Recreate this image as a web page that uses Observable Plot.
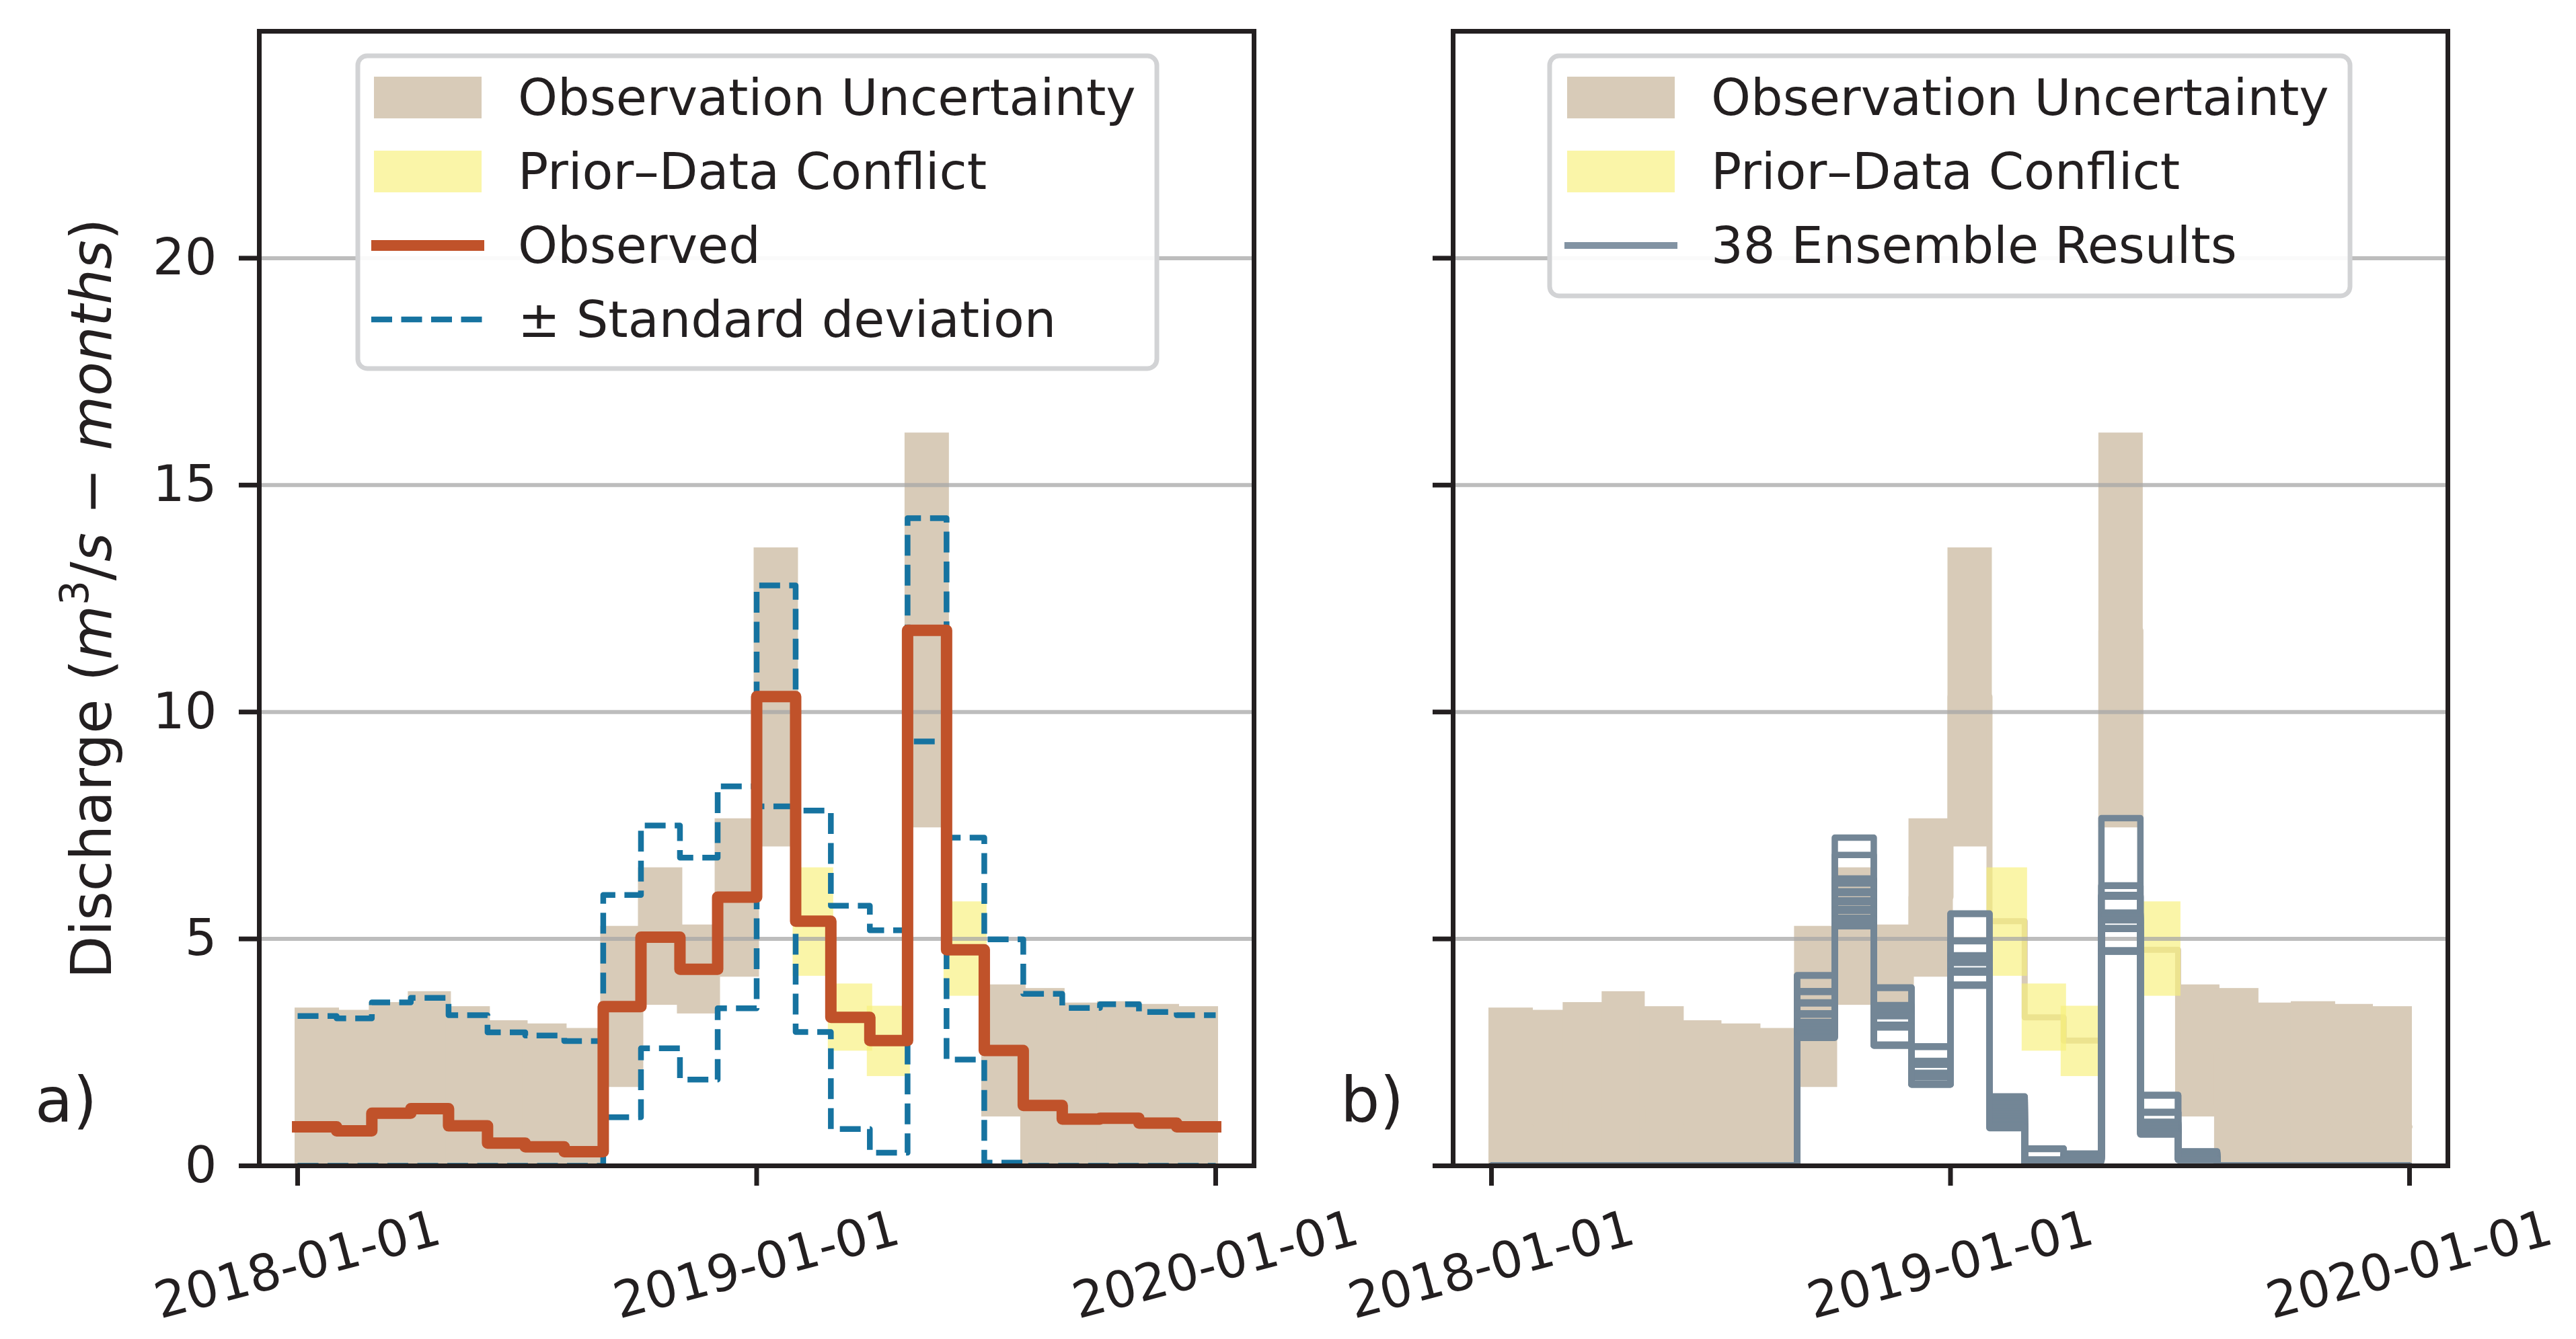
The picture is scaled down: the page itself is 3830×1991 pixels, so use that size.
<!DOCTYPE html>
<html>
<head>
<meta charset="utf-8">
<script src="https://cdn.jsdelivr.net/npm/d3@7"></script>
<script src="https://cdn.jsdelivr.net/npm/@observablehq/plot@0.6"></script>
<style>
html, body { margin: 0; padding: 0; background: #ffffff; }
#fig { position: relative; width: 3830px; height: 1991px; overflow: hidden; font-family: "DejaVu Sans", sans-serif; background: #ffffff; }
#fig svg { position: absolute; top: 0; overflow: visible; }
</style>
</head>
<body>
<div id="fig"></div>
<script>
// ---------------- data ----------------
const months = ["2018-01","2018-02","2018-03","2018-04","2018-05","2018-06","2018-07","2018-08","2018-09","2018-10","2018-11","2018-12",
                "2019-01","2019-02","2019-03","2019-04","2019-05","2019-06","2019-07","2019-08","2019-09","2019-10","2019-11","2019-12"];
const observed = [0.86, 0.77, 1.16, 1.26, 0.88, 0.50, 0.42, 0.31, 3.51, 5.04, 4.33, 5.92,
                  10.34, 5.39, 3.27, 2.76, 11.80, 4.76, 2.54, 1.33, 1.03, 1.05, 0.94, 0.86];
const obsUpper = [3.48, 3.43, 3.60, 3.84, 3.51, 3.20, 3.13, 3.03, 5.28, 6.57, 5.31, 7.65,
                  13.62, 6.57, 4.01, 3.52, 16.15, 5.82, 3.99, 3.91, 3.59, 3.62, 3.56, 3.51];
const obsLower = [0, 0, 0, 0, 0, 0, 0, 0, 1.73, 3.54, 3.35, 4.16,
                  7.03, 4.18, 2.53, 1.97, 7.45, 3.74, 1.08, 0, 0, 0, 0, 0];
const conflictMonths = ["2019-02", "2019-03", "2019-04", "2019-06"];
const stdUpper = [3.30, 3.25, 3.60, 3.70, 3.32, 2.94, 2.87, 2.75, 5.97, 7.50, 6.79, 8.36,
                  12.79, 7.83, 5.73, 5.19, 14.27, 7.23, 4.99, 3.79, 3.48, 3.56, 3.39, 3.32];
const stdLower = [0, 0, 0, 0, 0, 0, 0, 0, 1.07, 2.59, 1.90, 3.47,
                  7.92, 2.95, 0.81, 0.29, 9.35, 2.34, 0.07, 0, 0, 0, 0, 0];

// 38 ensemble members, values per month (months not listed are 0)
const ens_2018_09 = [4.20, 4.19, 3.85, 3.83, 3.60, 3.58, 3.36, 3.35, 3.33, 3.17,
  3.16, 3.14, 3.13, 3.11, 3.10, 3.08, 3.07, 3.05, 3.04, 3.02,
  3.01, 3.00, 2.99, 2.97, 2.96, 2.95, 2.94, 2.93, 2.92, 2.91,
  2.90, 2.89, 2.88, 2.87, 2.86, 2.85, 2.83, 2.82];
const ens_2018_10 = [7.23, 6.85, 6.33, 6.31, 6.29, 6.27, 6.25, 6.24, 6.23, 6.22,
  6.05, 6.04, 6.03, 6.03, 6.02, 6.01, 5.85, 5.84, 5.83, 5.83,
  5.82, 5.81, 5.66, 5.65, 5.64, 5.64, 5.63, 5.62, 5.47, 5.46,
  5.45, 5.44, 5.43, 5.30, 5.29, 5.29, 5.28, 5.28];
const ens_2018_11 = [3.93, 3.92, 3.54, 3.53, 3.52, 3.50, 3.49, 3.48, 3.46, 3.45,
  3.44, 3.43, 3.42, 3.41, 3.40, 3.39, 3.38, 3.37, 3.36, 3.35,
  3.34, 3.33, 3.32, 3.31, 3.30, 3.30, 3.11, 3.10, 3.09, 3.08,
  3.07, 3.06, 3.05, 2.67, 2.66, 2.66, 2.65, 2.65];
const ens_2018_12 = [2.63, 2.63, 2.62, 2.31, 2.30, 2.30, 2.29, 2.28, 2.27, 2.27,
  2.26, 2.25, 2.25, 2.24, 2.23, 2.23, 2.05, 2.04, 2.04, 2.03,
  2.02, 2.01, 2.01, 2.00, 1.99, 1.99, 1.98, 1.97, 1.97, 1.96,
  1.81, 1.81, 1.80, 1.80, 1.80, 1.80, 1.79, 1.79];
const ens_2019_01 = [5.56, 5.55, 4.96, 4.96, 4.95, 4.64, 4.63, 4.62, 4.61, 4.60,
  4.59, 4.58, 4.57, 4.56, 4.55, 4.54, 4.53, 4.52, 4.51, 4.50,
  4.49, 4.48, 4.47, 4.30, 4.29, 4.29, 4.28, 4.27, 4.27, 4.26,
  4.26, 3.99, 3.99, 3.98, 3.98, 3.98, 3.97, 3.97];
const ens_2019_02 = [1.53, 1.52, 1.48, 1.46, 1.45, 1.41, 1.40, 1.37, 1.34, 1.33,
  1.30, 1.28, 1.25, 1.24, 1.21, 1.19, 1.17, 1.15, 1.12, 1.11,
  1.09, 1.07, 1.05, 1.04, 1.02, 1.00, 0.98, 0.97, 0.95, 0.94,
  0.92, 0.91, 0.89, 0.88, 0.87, 0.86, 0.84, 0.83];
const ens_2019_03 = [0.38, 0.38, 0.37, 0.14, 0.13, 0.13, 0.12, 0.12, 0.11, 0.11,
  0.10, 0.10, 0.10, 0.09, 0.09, 0.09, 0.08, 0.08, 0.08, 0.08,
  0.07, 0.07, 0.07, 0.07, 0.06, 0.06, 0.06, 0.06, 0.05, 0.05,
  0.05, 0.05, 0.04, 0.04, 0.04, 0.03, 0.03, 0.02];
const ens_2019_04 = [0.27, 0.26, 0.26, 0.25, 0.24, 0.24, 0.23, 0.23, 0.22, 0.21,
  0.21, 0.20, 0.20, 0.19, 0.19, 0.19, 0.18, 0.18, 0.17, 0.17,
  0.17, 0.16, 0.16, 0.16, 0.15, 0.15, 0.15, 0.14, 0.14, 0.14,
  0.13, 0.13, 0.13, 0.12, 0.12, 0.11, 0.11, 0.10];
const ens_2019_05 = [7.66, 6.18, 6.17, 5.97, 5.96, 5.95, 5.94, 5.93, 5.58, 5.57,
  5.56, 5.55, 5.54, 5.53, 5.52, 5.51, 5.50, 5.49, 5.48, 5.47,
  5.46, 5.45, 5.44, 5.43, 5.42, 5.41, 5.24, 5.23, 5.23, 5.22,
  5.22, 4.75, 4.74, 4.74, 4.73, 4.73, 4.72, 4.72];
const ens_2019_06 = [1.56, 1.56, 1.55, 1.19, 1.18, 1.18, 1.17, 0.97, 0.96, 0.96,
  0.94, 0.93, 0.93, 0.91, 0.90, 0.89, 0.88, 0.88, 0.86, 0.85,
  0.84, 0.83, 0.82, 0.81, 0.80, 0.80, 0.78, 0.77, 0.76, 0.75,
  0.74, 0.74, 0.72, 0.72, 0.71, 0.70, 0.70, 0.69];
const ens_2019_07 = [0.32, 0.31, 0.31, 0.30, 0.29, 0.29, 0.28, 0.27, 0.27, 0.26,
  0.25, 0.25, 0.24, 0.24, 0.23, 0.22, 0.22, 0.21, 0.21, 0.20,
  0.20, 0.19, 0.19, 0.18, 0.18, 0.17, 0.17, 0.17, 0.16, 0.16,
  0.15, 0.15, 0.15, 0.14, 0.14, 0.13, 0.13, 0.13];
const ensembleCount = 38;

const xTickLabels = ["2018-01-01", "2019-01-01", "2020-01-01"];
const yTicks = [0, 5, 10, 15, 20];
const gridValues = [5, 10, 15, 20];
const legendA = ["Observation Uncertainty", "Prior\u2013Data Conflict", "Observed", "\u00b1 Standard deviation"];
const legendB = ["Observation Uncertainty", "Prior\u2013Data Conflict", "38 Ensemble Results"];

// ---------------- styles ----------------
const ink = "#231f20";
const tanColor = "#d8cbb8";
const yellowColor = "#f7f07a";
const orangeColor = "#c0522a";
const blueColor = "#1673a0";
const slateColor = "#738696";
const slateLegend = "#8293a3";
const gridColor = "#a7a7a7";
const FONT = "DejaVu Sans";

// ---------------- derived tables ----------------
const parseMonth = d3.utcParse("%Y-%m");
const starts = months.map(parseMonth);
const ends = starts.map(d => d3.utcMonth.offset(d, 1));
const isConflict = months.map(m => conflictMonths.includes(m));
const stepRows = vals => [...vals.map((v, i) => ({date: starts[i], v})),
                          {date: ends[ends.length - 1], v: vals[vals.length - 1]}];
const bandRows = months.map((m, i) => ({start: starts[i], end: ends[i], lo: obsLower[i], hi: obsUpper[i], conflict: isConflict[i]}));
const tanRows = bandRows.filter(d => !d.conflict);
const yellowRows = bandRows.filter(d => d.conflict);

const ensembleByMonth = new Map([
  ["2018-09", ens_2018_09], ["2018-10", ens_2018_10], ["2018-11", ens_2018_11], ["2018-12", ens_2018_12],
  ["2019-01", ens_2019_01], ["2019-02", ens_2019_02], ["2019-03", ens_2019_03], ["2019-04", ens_2019_04],
  ["2019-05", ens_2019_05], ["2019-06", ens_2019_06], ["2019-07", ens_2019_07]
]);
const ensRows = [];
for (let k = 0; k < ensembleCount; k++) {
  const vals = months.map(m => (ensembleByMonth.has(m) ? ensembleByMonth.get(m)[k] : 0));
  stepRows(vals).forEach(r => ensRows.push({...r, member: k}));
}

const xTicks = xTickLabels.map(d3.utcParse("%Y-%m-%d"));
const xDomain = [new Date(Date.UTC(2017, 11, 1, 12)), new Date(Date.UTC(2020, 0, 31, 12))];

// ---------------- common marks ----------------
function baseMarks() {
  return [
    Plot.rect(tanRows, {x1: "start", x2: "end", y1: "lo", y2: "hi", fill: tanColor, insetLeft: -4, insetRight: -4, clip: true}),
    Plot.line(stepRows(observed), {x: "date", y: "v", curve: "step-after", stroke: tanColor, strokeWidth: 9, clip: true}),
    Plot.rect(yellowRows, {x1: "start", x2: "end", y1: "lo", y2: "hi", fill: yellowColor, fillOpacity: 0.65, insetLeft: -4, insetRight: -4, clip: true}),
    Plot.ruleY(gridValues, {stroke: gridColor, strokeOpacity: 0.75, strokeWidth: 6})
  ];
}
function axes(withLabels) {
  return [
    Plot.axisX(xTicks, {tickSize: 30, tickPadding: 118, tickRotate: -15, textAnchor: "middle", lineAnchor: "middle",
      tickFormat: d3.utcFormat("%Y-%m-%d"), fontSize: 75, stroke: ink, strokeWidth: 7, fill: ink, label: null}),
    withLabels
      ? Plot.axisY(yTicks, {tickSize: 30, tickPadding: 33, fontSize: 75, tickFormat: d3.format("d"), stroke: ink, strokeWidth: 7, fill: ink, label: null})
      : Plot.axisY(yTicks, {tickSize: 30, stroke: ink, strokeWidth: 7, fill: "none", label: null}),
    Plot.frame({stroke: ink, strokeWidth: 7})
  ];
}
const common = {
  height: 1991, marginTop: 46, marginBottom: 258,
  x: {type: "utc", domain: xDomain},
  y: {domain: [0, 25]},
  style: {fontFamily: FONT, background: "transparent", color: ink, overflow: "visible"}
};

// ---------------- panel a ----------------
const plotA = Plot.plot({
  ...common, width: 1990, marginLeft: 385, marginRight: 126,
  marks: [
    ...baseMarks(),
    Plot.line(stepRows(stdUpper), {x: "date", y: "v", curve: "step-after", stroke: blueColor, strokeWidth: 8.5, strokeDasharray: "31,13.5", strokeLinecap: "butt", clip: true}),
    Plot.line(stepRows(stdLower), {x: "date", y: "v", curve: "step-after", stroke: blueColor, strokeWidth: 8.5, strokeDasharray: "31,13.5", strokeLinecap: "butt", clip: true}),
    Plot.line(stepRows(observed), {x: "date", y: "v", curve: "step-after", stroke: orangeColor, strokeWidth: 17, strokeLinecap: "square", strokeLinejoin: "round"}),
    ...axes(true)
  ]
});
plotA.style.left = "0px";

// ---------------- panel b ----------------
const plotB = Plot.plot({
  ...common, width: 1840, marginLeft: 170, marginRight: 191,
  marks: [
    ...baseMarks(),
    Plot.line(ensRows, {x: "date", y: "v", z: "member", curve: "step-after", stroke: slateColor, strokeWidth: 9.5, strokeLinejoin: "round", clip: true}),
    ...axes(false)
  ]
});
plotB.style.left = "1990px";

const fig = document.getElementById("fig");
fig.appendChild(plotA);
fig.appendChild(plotB);

// ---------------- legends ----------------
function drawLegend(svg, box, entries, patchX, textX) {
  const g = d3.select(svg).append("g").attr("font-family", FONT).attr("text-anchor", "start");
  g.append("rect").attr("x", box.x).attr("y", box.y).attr("width", box.w).attr("height", box.h)
    .attr("rx", 14).attr("fill", "#ffffff").attr("fill-opacity", 0.92).attr("stroke", "#d2d3d5").attr("stroke-width", 7);
  entries.forEach((e, i) => {
    const cy = 145 + 110 * i;
    if (e.kind === "patch") {
      g.append("rect").attr("x", patchX).attr("y", cy - 31).attr("width", 160).attr("height", 62)
        .attr("fill", e.color).attr("fill-opacity", e.opacity || 1);
    } else {
      g.append("line").attr("x1", patchX - 4).attr("x2", patchX + 164).attr("y1", cy).attr("y2", cy)
        .attr("stroke", e.color).attr("stroke-width", e.width)
        .attr("stroke-dasharray", e.dash || null);
    }
    g.append("text").attr("x", textX).attr("y", cy + 26).attr("font-size", 75).attr("fill", ink)
      .attr("text-anchor", "start").text(e.label);
  });
}
drawLegend(plotA, {x: 532, y: 83, w: 1188, h: 465}, [
  {kind: "patch", color: tanColor, label: legendA[0]},
  {kind: "patch", color: yellowColor, opacity: 0.65, label: legendA[1]},
  {kind: "line", color: orangeColor, width: 16, label: legendA[2]},
  {kind: "line", color: blueColor, width: 8.5, dash: "31,13.5", label: legendA[3]}
], 556, 770);
drawLegend(plotB, {x: 314, y: 83, w: 1190, h: 357}, [
  {kind: "patch", color: tanColor, label: legendB[0]},
  {kind: "patch", color: yellowColor, opacity: 0.65, label: legendB[1]},
  {kind: "line", color: slateLegend, width: 10, label: legendB[2]}
], 340, 554);

// ---------------- y label & panel tags ----------------
const yl = d3.select(plotA).append("text")
  .attr("transform", "translate(165,890) rotate(-90)")
  .attr("text-anchor", "middle").attr("font-size", 83).attr("fill", ink).attr("font-family", FONT);
yl.append("tspan").text("Discharge (");
yl.append("tspan").attr("font-style", "italic").text("m");
yl.append("tspan").attr("font-size", 58).attr("dy", -34).text("3");
yl.append("tspan").attr("dy", 34).text("/");
yl.append("tspan").attr("font-style", "italic").text("s");
yl.append("tspan").text(" \u2212 ");
yl.append("tspan").attr("font-style", "italic").text("months");
yl.append("tspan").text(")");

d3.select(plotA).append("text").attr("x", 52).attr("y", 1668).attr("font-size", 92).attr("text-anchor", "start")
  .attr("fill", ink).attr("font-family", FONT).text("a)");
d3.select(plotB).append("text").attr("x", 3).attr("y", 1668).attr("font-size", 92).attr("text-anchor", "start")
  .attr("fill", ink).attr("font-family", FONT).text("b)");
</script>
</body>
</html>
